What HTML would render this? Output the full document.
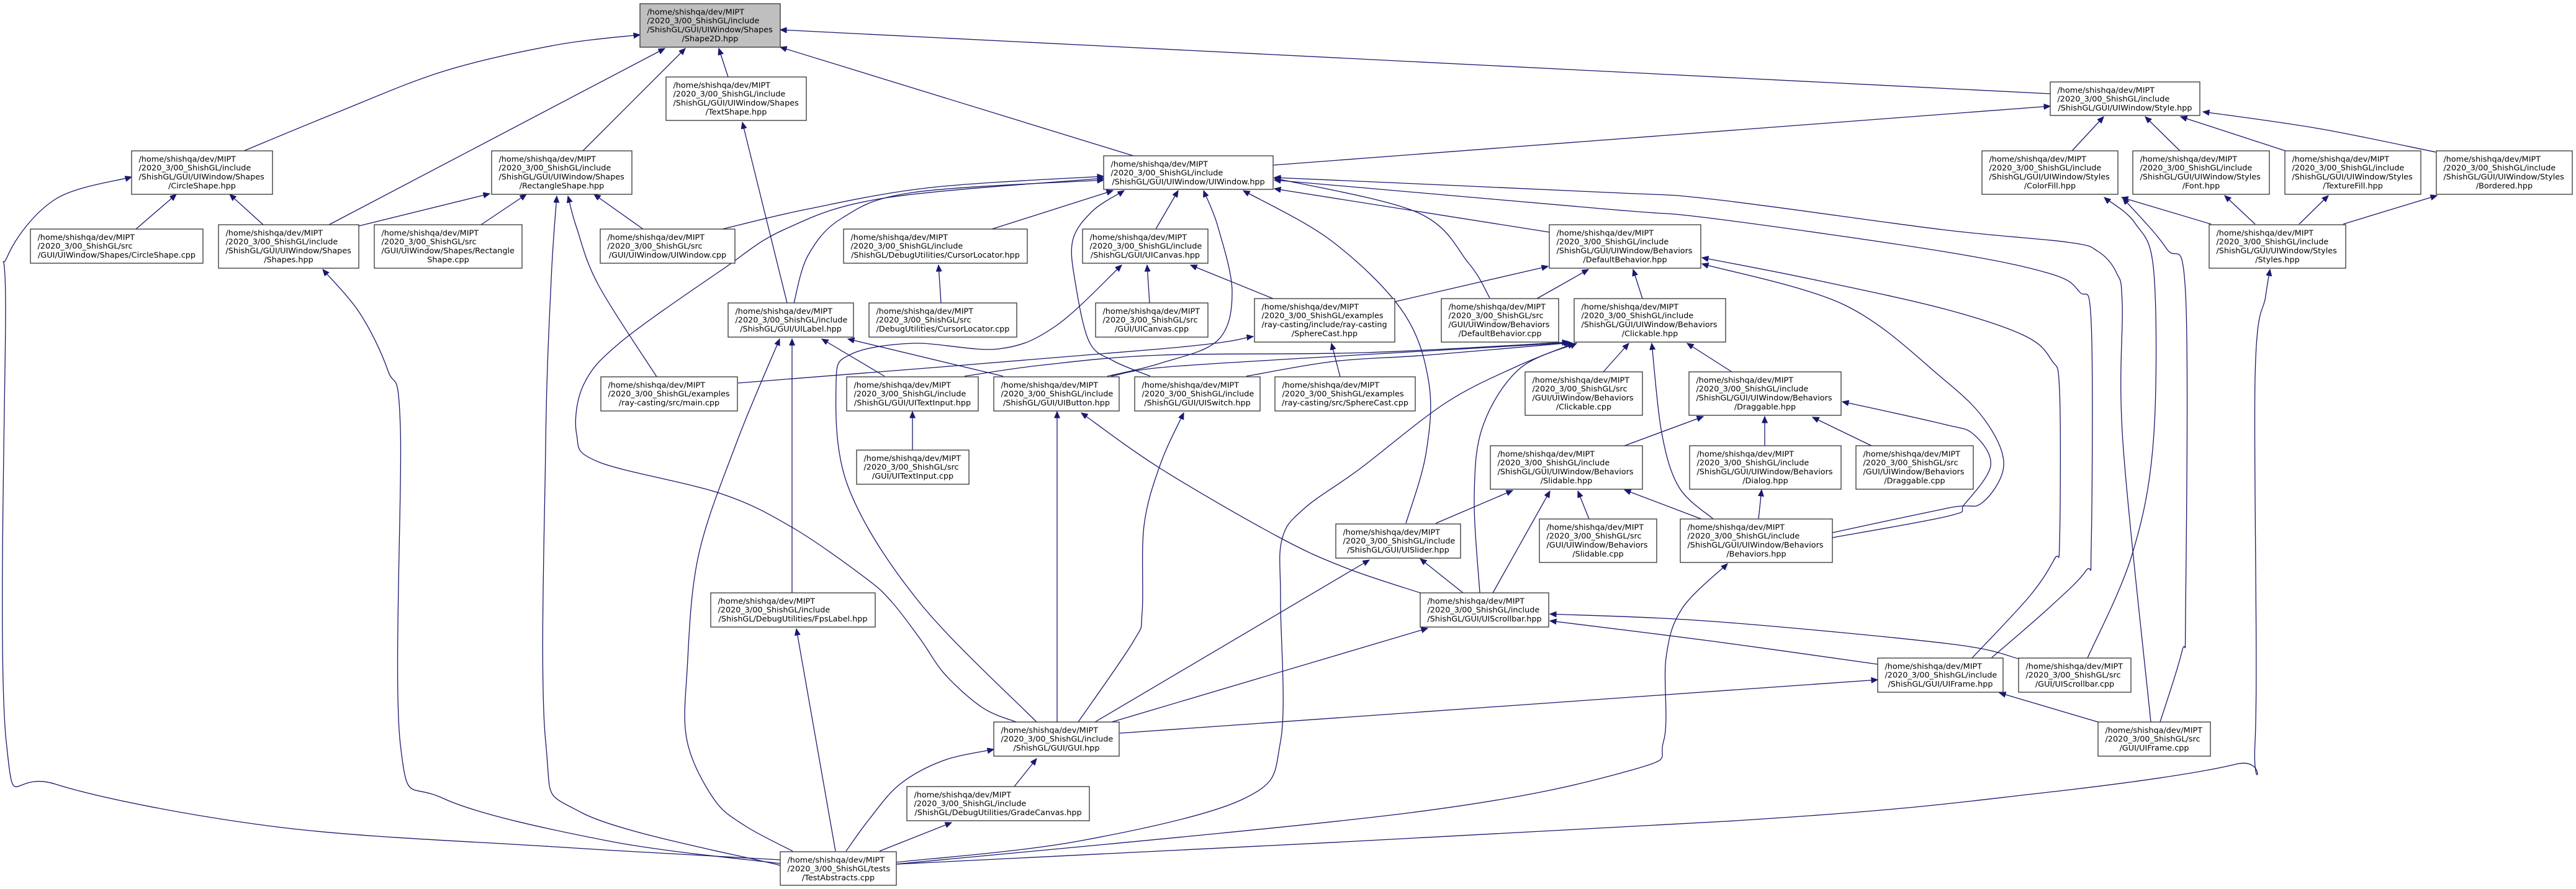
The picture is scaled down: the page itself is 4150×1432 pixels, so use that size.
<!DOCTYPE html>
<html>
<head>
<meta charset="utf-8">
<style>
html,body{margin:0;padding:0;background:#fff;}
svg{display:block;}
.e{fill:none;stroke:#191970;stroke-width:1.3;marker-end:url(#a);}
.n rect{fill:#fff;stroke:#333;stroke-width:1.3;}
.n rect.g{fill:#bfbfbf;}
.n text{font-family:"DejaVu Sans","Liberation Sans",sans-serif;font-size:12.8px;fill:#000;}
.n text.c{text-anchor:middle;}
</style>
</head>
<body>
<svg xmlns="http://www.w3.org/2000/svg" width="4150" height="1432" viewBox="0 0 4150 1432">
<defs>
<marker id="a" markerWidth="12" markerHeight="10" refX="10.5" refY="4.5" orient="auto" markerUnits="userSpaceOnUse">
<path d="M0,0 L10.5,4.5 L0,9 z" fill="#191970" stroke="#191970" stroke-width="1"/>
</marker>
</defs>
<rect width="4150" height="1432" fill="#fff"/>
<g id="edges">
<polyline class="e s" points="393,243 536,184 714,115 893,73 1031,56"/>
<polyline class="e s" points="530,362 1071,78"/>
<polyline class="e s" points="939,243 1104,78"/>
<polyline class="e s" points="1173,124 1158,78"/>
<polyline class="e s" points="3303,151 1257,48"/>
<polyline class="e s" points="1826,251 1257,76"/>
<polyline class="e s" points="219,369 284,313"/>
<polyline class="e s" points="424,362 370,313"/>
<polyline class="e s" points="578,364 789,312"/>
<polyline class="e s" points="775,362 848,313"/>
<polyline class="e s" points="1036,369 957,313"/>
<polyline class="e s" points="1257,1385 893,1364 446,1332 89,1263 10,1194 9,505 12,413 89,321 212,285"/>
<polyline class="e s" points="1257,1391 982,1355 714,1286 645,1199 645,689 625,597 580,505 520,434"/>
<polyline class="e s" points="1257,1394 937,1309 879,1194 879,720 888,450 897,316"/>
<polyline class="e s" points="1058,607 964,459 929,367 915,316"/>
<polyline class="e s" points="1268,488 1196,197"/>
<polyline class="e s" points="1279,488 1302,411 1357,351 1471,310 1778,290"/>
<polyline class="e s" points="1164,369 1300,337 1500,302 1778,284"/>
<polyline class="e s" points="1637,1163 1583,1140 1523,1087 1483,1030 1437,970 1393,930 1277,850 1161,795 964,744 929,700 940,620 1000,551 1161,436 1265,369 1425,319 1778,287"/>
<polyline class="e s" points="1598,369 1793,307"/>
<polyline class="e s" points="1862,369 1898,307"/>
<polyline class="e s" points="1784,606 1870,585 1962,548 1985,470 1962,365 1939,307"/>
<polyline class="e s" points="1853,606 1793,581 1755,551 1733,459 1728,388 1760,340 1811,307"/>
<polyline class="e s" points="2496,374 2053,304"/>
<polyline class="e s" points="2400,480 2366,424 2283,342 2053,287"/>
<polyline class="e s" points="2265,843 2297,732 2302,617 2260,502 2145,388 2003,307"/>
<polyline class="e s" points="3208,1060 3300,980 3360,920 3369,880 3369,520 3350,470 3300,440 3130,405 2760,352 2590,337 2053,290"/>
<polyline class="e s" points="3465,1163 3420,712 3419,490 3410,440 3380,405 3330,390 3130,370 2760,321 2590,310 2053,286"/>
<polyline class="e s" points="2051,266 3303,171"/>
<polyline class="e s" points="1516,488 1512,427"/>
<polyline class="e s" points="1852,488 1848,427"/>
<polyline class="e s" points="2051,481 1918,427"/>
<polyline class="e s" points="1670,1163 1481,970 1366,783 1347,617 1370,571 1471,553 1609,562 1701,525 1807,427"/>
<polyline class="e s" points="1189,617 1870,562 2019,542"/>
<polyline class="e s" points="2159,607 2145,553"/>
<polyline class="e s" points="2247,486 2494,429"/>
<polyline class="e s" points="2476,481 2559,434"/>
<polyline class="e s" points="2646,481 2631,434"/>
<polyline class="e s" points="3177,1060 3270,960 3310,900 3318,873 3318,630 3305,580 3260,540 3130,497 2920,450 2742,415"/>
<polyline class="e s" points="2952,858 3140,818 3193,810 3228,750 3200,680 3130,610 2971,491 2742,425"/>
<polyline class="e s" points="2952,866 3140,831 3165,812 3207,750 3180,700 3130,683 2968,647"/>
<polyline class="e s" points="2583,599 2624,553"/>
<polyline class="e s" points="2760,836 2705,785 2677,697 2661,553"/>
<polyline class="e s" points="2790,599 2718,553"/>
<polyline class="e s" points="2617,718 2744,671"/>
<polyline class="e s" points="2843,718 2843,671"/>
<polyline class="e s" points="3015,718 2920,672"/>
<polyline class="e s" points="2833,836 2838,789"/>
<polyline class="e s" points="2741,836 2617,789"/>
<polyline class="e s" points="2313,843 2437,790"/>
<polyline class="e s" points="2405,955 2497,791"/>
<polyline class="e s" points="2560,836 2542,791"/>
<polyline class="e s" points="1444,1392 2273,1309 2630,1240 2680,1194 2684,1060 2710,980 2783,908"/>
<polyline class="e s" points="1444,1389 1737,1355 2005,1286 2063,1194 2063,970 2065,870 2100,820 2191,755 2329,649 2444,590 2536,553"/>
<polyline class="e s" points="2384,955 2375,801 2389,686 2448,594 2540,553"/>
<polyline class="e s" points="1554,606 1680,588 1870,572 2200,568 2527,551"/>
<polyline class="e s" points="1790,606 1870,592 2100,577 2530,552"/>
<polyline class="e s" points="2008,606 2150,582 2300,572 2532,552"/>
<polyline class="e s" points="1425,606 1324,546"/>
<polyline class="e s" points="1616,606 1366,546"/>
<polyline class="e s" points="1276,955 1276,546"/>
<polyline class="e s" points="1277,1371 1200,1330 1150,1287 1107,1194 1107,1079 1125,896 1187,712 1256,546"/>
<polyline class="e s" points="1470,725 1470,663"/>
<polyline class="e s" points="1703,1163 1703,663"/>
<polyline class="e s" points="2288,955 2166,914 2058,864 1870,755 1742,665"/>
<polyline class="e s" points="1737,1163 1826,1033 1840,987 1843,847 1870,746 1907,665"/>
<polyline class="e s" points="1764,1163 2206,902"/>
<polyline class="e s" points="1791,1163 2300,1012"/>
<polyline class="e s" points="2357,955 2288,900"/>
<polyline class="e s" points="1804,1181 3025,1095"/>
<polyline class="e s" points="3025,1070 2760,1033 2497,1000"/>
<polyline class="e s" points="3252,1061 3140,1037 2760,1001 2497,989"/>
<polyline class="e s" points="3380,1163 3221,1116"/>
<polyline class="e s" points="3363,1060 3434,896 3469,712 3470,440 3440,360 3390,318"/>
<polyline class="e s" points="3480,1163 3515,1050 3521,987 3521,473 3490,400 3420,319"/>
<polyline class="e s" points="3562,361 3418,318"/>
<polyline class="e s" points="3633,361 3584,315"/>
<polyline class="e s" points="3704,361 3751,315"/>
<polyline class="e s" points="3775,361 3926,315"/>
<polyline class="e s" points="3338,243 3389,188"/>
<polyline class="e s" points="3512,243 3456,188"/>
<polyline class="e s" points="3682,243 3513,188"/>
<polyline class="e s" points="3924,245 3735,207 3549,180"/>
<polyline class="e s" points="1444,1392 2780,1323 3292,1277 3602,1231 3633,1194 3633,607 3650,477 3657,434"/>
<polyline class="e s" points="1346,1371 1283,1013"/>
<polyline class="e s" points="1363,1371 1400,1320 1450,1263 1520,1225 1601,1207"/>
<polyline class="e s" points="1417,1371 1533,1325"/>
<polyline class="e s" points="1634,1267 1670,1222"/>
</g>
<g id="nodes" class="n">
<g transform="translate(1031,6)"><rect class="g" width="226" height="70"/><text x="11.5" y="17.3">/home/shishqa/dev/MIPT</text><text x="11.5" y="31.7">/2020_3/00_ShishGL/include</text><text x="11.5" y="46.1">/ShishGL/GUI/UIWindow/Shapes</text><text class="c" x="113" y="60.5">/Shape2D.hpp</text></g>
<g transform="translate(1073,124)"><rect width="226" height="70"/><text x="11.5" y="17.3">/home/shishqa/dev/MIPT</text><text x="11.5" y="31.7">/2020_3/00_ShishGL/include</text><text x="11.5" y="46.1">/ShishGL/GUI/UIWindow/Shapes</text><text class="c" x="113" y="60.5">/TextShape.hpp</text></g>
<g transform="translate(3303,132)"><rect width="241" height="54"/><text x="11.5" y="17.3">/home/shishqa/dev/MIPT</text><text x="11.5" y="31.7">/2020_3/00_ShishGL/include</text><text class="c" x="120.5" y="46.1">/ShishGL/GUI/UIWindow/Style.hpp</text></g>
<g transform="translate(212,243)"><rect width="227" height="70"/><text x="11.5" y="17.3">/home/shishqa/dev/MIPT</text><text x="11.5" y="31.7">/2020_3/00_ShishGL/include</text><text x="11.5" y="46.1">/ShishGL/GUI/UIWindow/Shapes</text><text class="c" x="113.5" y="60.5">/CircleShape.hpp</text></g>
<g transform="translate(792,243)"><rect width="226" height="70"/><text x="11.5" y="17.3">/home/shishqa/dev/MIPT</text><text x="11.5" y="31.7">/2020_3/00_ShishGL/include</text><text x="11.5" y="46.1">/ShishGL/GUI/UIWindow/Shapes</text><text class="c" x="113" y="60.5">/RectangleShape.hpp</text></g>
<g transform="translate(1778,251)"><rect width="273" height="54"/><text x="11.5" y="17.3">/home/shishqa/dev/MIPT</text><text x="11.5" y="31.7">/2020_3/00_ShishGL/include</text><text class="c" x="136.5" y="46.1">/ShishGL/GUI/UIWindow/UIWindow.hpp</text></g>
<g transform="translate(3193,243)"><rect width="219" height="70"/><text x="11.5" y="17.3">/home/shishqa/dev/MIPT</text><text x="11.5" y="31.7">/2020_3/00_ShishGL/include</text><text x="11.5" y="46.1">/ShishGL/GUI/UIWindow/Styles</text><text class="c" x="109.5" y="60.5">/ColorFill.hpp</text></g>
<g transform="translate(3436,243)"><rect width="220" height="70"/><text x="11.5" y="17.3">/home/shishqa/dev/MIPT</text><text x="11.5" y="31.7">/2020_3/00_ShishGL/include</text><text x="11.5" y="46.1">/ShishGL/GUI/UIWindow/Styles</text><text class="c" x="110" y="60.5">/Font.hpp</text></g>
<g transform="translate(3681,243)"><rect width="219" height="70"/><text x="11.5" y="17.3">/home/shishqa/dev/MIPT</text><text x="11.5" y="31.7">/2020_3/00_ShishGL/include</text><text x="11.5" y="46.1">/ShishGL/GUI/UIWindow/Styles</text><text class="c" x="109.5" y="60.5">/TextureFill.hpp</text></g>
<g transform="translate(3925,243)"><rect width="219" height="70"/><text x="11.5" y="17.3">/home/shishqa/dev/MIPT</text><text x="11.5" y="31.7">/2020_3/00_ShishGL/include</text><text x="11.5" y="46.1">/ShishGL/GUI/UIWindow/Styles</text><text class="c" x="109.5" y="60.5">/Bordered.hpp</text></g>
<g transform="translate(49,369)"><rect width="278" height="55"/><text x="11.5" y="17.3">/home/shishqa/dev/MIPT</text><text x="11.5" y="31.7">/2020_3/00_ShishGL/src</text><text class="c" x="139" y="46.1">/GUI/UIWindow/Shapes/CircleShape.cpp</text></g>
<g transform="translate(352,362)"><rect width="226" height="70"/><text x="11.5" y="17.3">/home/shishqa/dev/MIPT</text><text x="11.5" y="31.7">/2020_3/00_ShishGL/include</text><text x="11.5" y="46.1">/ShishGL/GUI/UIWindow/Shapes</text><text class="c" x="113" y="60.5">/Shapes.hpp</text></g>
<g transform="translate(603,362)"><rect width="238" height="70"/><text x="11.5" y="17.3">/home/shishqa/dev/MIPT</text><text x="11.5" y="31.7">/2020_3/00_ShishGL/src</text><text x="11.5" y="46.1">/GUI/UIWindow/Shapes/Rectangle</text><text class="c" x="119" y="60.5">Shape.cpp</text></g>
<g transform="translate(967,369)"><rect width="217" height="55"/><text x="11.5" y="17.3">/home/shishqa/dev/MIPT</text><text x="11.5" y="31.7">/2020_3/00_ShishGL/src</text><text class="c" x="108.5" y="46.1">/GUI/UIWindow/UIWindow.cpp</text></g>
<g transform="translate(1359,369)"><rect width="296" height="55"/><text x="11.5" y="17.3">/home/shishqa/dev/MIPT</text><text x="11.5" y="31.7">/2020_3/00_ShishGL/include</text><text class="c" x="148" y="46.1">/ShishGL/DebugUtilities/CursorLocator.hpp</text></g>
<g transform="translate(1744,369)"><rect width="202" height="55"/><text x="11.5" y="17.3">/home/shishqa/dev/MIPT</text><text x="11.5" y="31.7">/2020_3/00_ShishGL/include</text><text class="c" x="101" y="46.1">/ShishGL/GUI/UICanvas.hpp</text></g>
<g transform="translate(2496,362)"><rect width="244" height="70"/><text x="11.5" y="17.3">/home/shishqa/dev/MIPT</text><text x="11.5" y="31.7">/2020_3/00_ShishGL/include</text><text x="11.5" y="46.1">/ShishGL/GUI/UIWindow/Behaviors</text><text class="c" x="122" y="60.5">/DefaultBehavior.hpp</text></g>
<g transform="translate(3559,362)"><rect width="220" height="70"/><text x="11.5" y="17.3">/home/shishqa/dev/MIPT</text><text x="11.5" y="31.7">/2020_3/00_ShishGL/include</text><text x="11.5" y="46.1">/ShishGL/GUI/UIWindow/Styles</text><text class="c" x="110" y="60.5">/Styles.hpp</text></g>
<g transform="translate(1173,488)"><rect width="202" height="55"/><text x="11.5" y="17.3">/home/shishqa/dev/MIPT</text><text x="11.5" y="31.7">/2020_3/00_ShishGL/include</text><text class="c" x="101" y="46.1">/ShishGL/GUI/UILabel.hpp</text></g>
<g transform="translate(1400,488)"><rect width="238" height="55"/><text x="11.5" y="17.3">/home/shishqa/dev/MIPT</text><text x="11.5" y="31.7">/2020_3/00_ShishGL/src</text><text class="c" x="119" y="46.1">/DebugUtilities/CursorLocator.cpp</text></g>
<g transform="translate(1765,488)"><rect width="181" height="55"/><text x="11.5" y="17.3">/home/shishqa/dev/MIPT</text><text x="11.5" y="31.7">/2020_3/00_ShishGL/src</text><text class="c" x="90.5" y="46.1">/GUI/UICanvas.cpp</text></g>
<g transform="translate(2021,481)"><rect width="226" height="70"/><text x="11.5" y="17.3">/home/shishqa/dev/MIPT</text><text x="11.5" y="31.7">/2020_3/00_ShishGL/examples</text><text x="11.5" y="46.1">/ray-casting/include/ray-casting</text><text class="c" x="113" y="60.5">/SphereCast.hpp</text></g>
<g transform="translate(2322,481)"><rect width="189" height="70"/><text x="11.5" y="17.3">/home/shishqa/dev/MIPT</text><text x="11.5" y="31.7">/2020_3/00_ShishGL/src</text><text x="11.5" y="46.1">/GUI/UIWindow/Behaviors</text><text class="c" x="94.5" y="60.5">/DefaultBehavior.cpp</text></g>
<g transform="translate(2536,481)"><rect width="244" height="70"/><text x="11.5" y="17.3">/home/shishqa/dev/MIPT</text><text x="11.5" y="31.7">/2020_3/00_ShishGL/include</text><text x="11.5" y="46.1">/ShishGL/GUI/UIWindow/Behaviors</text><text class="c" x="122" y="60.5">/Clickable.hpp</text></g>
<g transform="translate(968,607)"><rect width="220" height="55"/><text x="11.5" y="17.3">/home/shishqa/dev/MIPT</text><text x="11.5" y="31.7">/2020_3/00_ShishGL/examples</text><text class="c" x="110" y="46.1">/ray-casting/src/main.cpp</text></g>
<g transform="translate(1364,607)"><rect width="212" height="55"/><text x="11.5" y="17.3">/home/shishqa/dev/MIPT</text><text x="11.5" y="31.7">/2020_3/00_ShishGL/include</text><text class="c" x="106" y="46.1">/ShishGL/GUI/UITextInput.hpp</text></g>
<g transform="translate(1601,607)"><rect width="202" height="55"/><text x="11.5" y="17.3">/home/shishqa/dev/MIPT</text><text x="11.5" y="31.7">/2020_3/00_ShishGL/include</text><text class="c" x="101" y="46.1">/ShishGL/GUI/UIButton.hpp</text></g>
<g transform="translate(1828,607)"><rect width="202" height="55"/><text x="11.5" y="17.3">/home/shishqa/dev/MIPT</text><text x="11.5" y="31.7">/2020_3/00_ShishGL/include</text><text class="c" x="101" y="46.1">/ShishGL/GUI/UISwitch.hpp</text></g>
<g transform="translate(2054,607)"><rect width="226" height="55"/><text x="11.5" y="17.3">/home/shishqa/dev/MIPT</text><text x="11.5" y="31.7">/2020_3/00_ShishGL/examples</text><text class="c" x="113" y="46.1">/ray-casting/src/SphereCast.cpp</text></g>
<g transform="translate(2457,599)"><rect width="189" height="70"/><text x="11.5" y="17.3">/home/shishqa/dev/MIPT</text><text x="11.5" y="31.7">/2020_3/00_ShishGL/src</text><text x="11.5" y="46.1">/GUI/UIWindow/Behaviors</text><text class="c" x="94.5" y="60.5">/Clickable.cpp</text></g>
<g transform="translate(2721,599)"><rect width="245" height="70"/><text x="11.5" y="17.3">/home/shishqa/dev/MIPT</text><text x="11.5" y="31.7">/2020_3/00_ShishGL/include</text><text x="11.5" y="46.1">/ShishGL/GUI/UIWindow/Behaviors</text><text class="c" x="122.5" y="60.5">/Draggable.hpp</text></g>
<g transform="translate(1380,725)"><rect width="181" height="55"/><text x="11.5" y="17.3">/home/shishqa/dev/MIPT</text><text x="11.5" y="31.7">/2020_3/00_ShishGL/src</text><text class="c" x="90.5" y="46.1">/GUI/UITextInput.cpp</text></g>
<g transform="translate(2401,718)"><rect width="245" height="70"/><text x="11.5" y="17.3">/home/shishqa/dev/MIPT</text><text x="11.5" y="31.7">/2020_3/00_ShishGL/include</text><text x="11.5" y="46.1">/ShishGL/GUI/UIWindow/Behaviors</text><text class="c" x="122.5" y="60.5">/Slidable.hpp</text></g>
<g transform="translate(2722,718)"><rect width="244" height="70"/><text x="11.5" y="17.3">/home/shishqa/dev/MIPT</text><text x="11.5" y="31.7">/2020_3/00_ShishGL/include</text><text x="11.5" y="46.1">/ShishGL/GUI/UIWindow/Behaviors</text><text class="c" x="122" y="60.5">/Dialog.hpp</text></g>
<g transform="translate(2990,718)"><rect width="189" height="70"/><text x="11.5" y="17.3">/home/shishqa/dev/MIPT</text><text x="11.5" y="31.7">/2020_3/00_ShishGL/src</text><text x="11.5" y="46.1">/GUI/UIWindow/Behaviors</text><text class="c" x="94.5" y="60.5">/Draggable.cpp</text></g>
<g transform="translate(2152,844)"><rect width="201" height="55"/><text x="11.5" y="17.3">/home/shishqa/dev/MIPT</text><text x="11.5" y="31.7">/2020_3/00_ShishGL/include</text><text class="c" x="100.5" y="46.1">/ShishGL/GUI/UISlider.hpp</text></g>
<g transform="translate(2480,836)"><rect width="189" height="70"/><text x="11.5" y="17.3">/home/shishqa/dev/MIPT</text><text x="11.5" y="31.7">/2020_3/00_ShishGL/src</text><text x="11.5" y="46.1">/GUI/UIWindow/Behaviors</text><text class="c" x="94.5" y="60.5">/Slidable.cpp</text></g>
<g transform="translate(2707,836)"><rect width="245" height="70"/><text x="11.5" y="17.3">/home/shishqa/dev/MIPT</text><text x="11.5" y="31.7">/2020_3/00_ShishGL/include</text><text x="11.5" y="46.1">/ShishGL/GUI/UIWindow/Behaviors</text><text class="c" x="122.5" y="60.5">/Behaviors.hpp</text></g>
<g transform="translate(1145,955)"><rect width="265" height="55"/><text x="11.5" y="17.3">/home/shishqa/dev/MIPT</text><text x="11.5" y="31.7">/2020_3/00_ShishGL/include</text><text class="c" x="132.5" y="46.1">/ShishGL/DebugUtilities/FpsLabel.hpp</text></g>
<g transform="translate(2288,955)"><rect width="207" height="55"/><text x="11.5" y="17.3">/home/shishqa/dev/MIPT</text><text x="11.5" y="31.7">/2020_3/00_ShishGL/include</text><text class="c" x="103.5" y="46.1">/ShishGL/GUI/UIScrollbar.hpp</text></g>
<g transform="translate(3025,1060)"><rect width="202" height="55"/><text x="11.5" y="17.3">/home/shishqa/dev/MIPT</text><text x="11.5" y="31.7">/2020_3/00_ShishGL/include</text><text class="c" x="101" y="46.1">/ShishGL/GUI/UIFrame.hpp</text></g>
<g transform="translate(3252,1060)"><rect width="181" height="55"/><text x="11.5" y="17.3">/home/shishqa/dev/MIPT</text><text x="11.5" y="31.7">/2020_3/00_ShishGL/src</text><text class="c" x="90.5" y="46.1">/GUI/UIScrollbar.cpp</text></g>
<g transform="translate(1601,1163)"><rect width="202" height="55"/><text x="11.5" y="17.3">/home/shishqa/dev/MIPT</text><text x="11.5" y="31.7">/2020_3/00_ShishGL/include</text><text class="c" x="101" y="46.1">/ShishGL/GUI/GUI.hpp</text></g>
<g transform="translate(3380,1163)"><rect width="181" height="55"/><text x="11.5" y="17.3">/home/shishqa/dev/MIPT</text><text x="11.5" y="31.7">/2020_3/00_ShishGL/src</text><text class="c" x="90.5" y="46.1">/GUI/UIFrame.cpp</text></g>
<g transform="translate(1461,1267)"><rect width="294" height="55"/><text x="11.5" y="17.3">/home/shishqa/dev/MIPT</text><text x="11.5" y="31.7">/2020_3/00_ShishGL/include</text><text class="c" x="147" y="46.1">/ShishGL/DebugUtilities/GradeCanvas.hpp</text></g>
<g transform="translate(1257,1372)"><rect width="187" height="54"/><text x="11.5" y="17.3">/home/shishqa/dev/MIPT</text><text x="11.5" y="31.7">/2020_3/00_ShishGL/tests</text><text class="c" x="93.5" y="46.1">/TestAbstracts.cpp</text></g>
</g>
</svg>
<script>
(function(){
  var NS='http://www.w3.org/2000/svg';
  var pls=document.querySelectorAll('polyline.s');
  for(var k=0;k<pls.length;k++){
    var pl=pls[k];
    var raw=pl.getAttribute('points').trim().split(/\s+/);
    var pts=[];
    for(var j=0;j<raw.length;j++){var a=raw[j].split(',');pts.push([+a[0],+a[1]]);}
    if(pts.length<3) continue;
    var d='M'+pts[0][0]+','+pts[0][1];
    for(var i=0;i<pts.length-1;i++){
      var p0=pts[i-1]||pts[i],p1=pts[i],p2=pts[i+1],p3=pts[i+2]||p2;
      var c1x=p1[0]+(p2[0]-p0[0])/6,c1y=p1[1]+(p2[1]-p0[1])/6;
      var c2x=p2[0]-(p3[0]-p1[0])/6,c2y=p2[1]-(p3[1]-p1[1])/6;
      d+=' C'+c1x.toFixed(1)+','+c1y.toFixed(1)+' '+c2x.toFixed(1)+','+c2y.toFixed(1)+' '+p2[0]+','+p2[1];
    }
    var path=document.createElementNS(NS,'path');
    path.setAttribute('d',d);
    path.setAttribute('class','e');
    pl.parentNode.replaceChild(path,pl);
  }
})();
</script>
</body>
</html>
